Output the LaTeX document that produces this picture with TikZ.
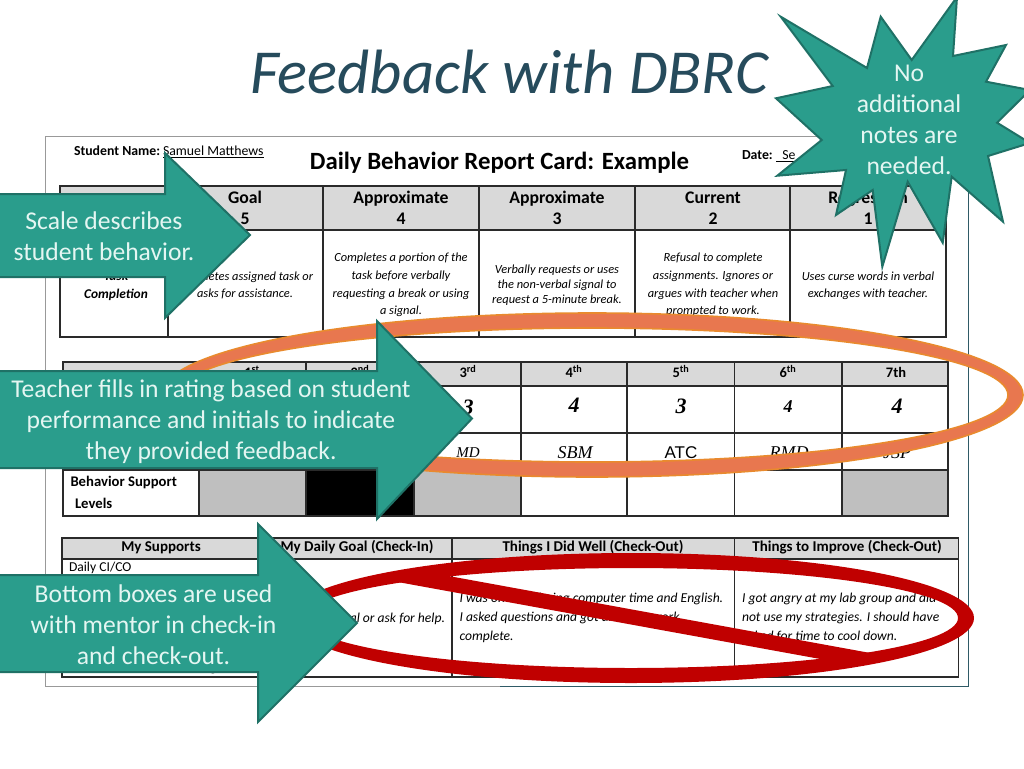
\documentclass[tikz,border=0pt]{standalone}
\usepackage{fontspec}
\setmainfont{Carlito}
\newfontfamily\hand{Liberation Serif}
\newfontfamily\arialish{Liberation Sans}
\usetikzlibrary{calc}
\definecolor{teal1}{HTML}{2A9D8C}
\definecolor{teal2}{HTML}{1F7166}
\definecolor{titlec}{HTML}{264B5C}
\definecolor{pale}{HTML}{E4F6F2}
\definecolor{hdr}{HTML}{D9D9D9}
\definecolor{lvl}{HTML}{BFBFBF}
\definecolor{rim}{HTML}{E98A2E}
\definecolor{ring}{HTML}{E8774F}
\definecolor{nored}{HTML}{C00000}
\definecolor{gl}{HTML}{2A2A2A}
\definecolor{frameg}{HTML}{999999}
\definecolor{framet}{HTML}{2F5A66}
\tikzset{
  x=1pt,y=-1pt,
  grid/.style={draw=gl,line width=1.25pt},
  hcell/.style={fill=hdr},
  tx/.style={anchor=mid,inner sep=0pt,outer sep=0pt,text=black},
  hd/.style={tx,font=\fontsize{17.7}{19}\selectfont\bfseries},
  hs/.style={tx,font=\fontsize{14.5}{16}\selectfont\bfseries},
  hb/.style={tx,font=\fontsize{15}{17}\selectfont\bfseries},
  it/.style={tx,font=\fontsize{12.4}{14}\selectfont\itshape},
  itb/.style={tx,font=\fontsize{13.6}{15}\selectfont\itshape,anchor=mid west},
  rate/.style={tx,font=\fontsize{22}{24}\hand\bfseries\itshape},
  init/.style={tx,font=\fontsize{18}{20}\hand\itshape},
  callout/.style={fill=teal1,draw=teal2,line width=2pt,line join=miter},
  calltext/.style={anchor=center,inner sep=0pt,align=center,text=pale,font=\fontsize{25.6}{31}\selectfont},
}
\begin{document}
\begin{tikzpicture}
\useasboundingbox (0,0) rectangle (1024,768);
\fill[white] (0,0) rectangle (1024,768);
% title
\node[anchor=mid,inner sep=0pt,text=titlec,font=\fontsize{62.6}{66}\selectfont\itshape] (title) at (509,91) {Feedback with DBRC};
% page frame
\draw[draw=frameg,line width=1pt] (500,686) -- (45.5,686) -- (45.5,136) -- (968,136);
\draw[draw=framet,line width=1pt] (968,136) -- (968,686) -- (500,686);
% head of card
\node[tx,anchor=mid west,font=\fontsize{13.8}{15}\selectfont\bfseries] (sn) at (74,153) {Student Name:};
\node[tx,anchor=mid west,font=\fontsize{13.8}{15}\selectfont] (sm) at (163,153) {\underline{Samuel Matthews}};
\node[tx,font=\fontsize{24.8}{26}\selectfont\bfseries] (card) at (499.5,167) {Daily Behavior Report Card: Example};
\node[tx,anchor=mid west,font=\fontsize{13.8}{15}\selectfont\bfseries] (dt) at (742,157) {Date:};
\node[tx,anchor=mid west,font=\fontsize{13.8}{15}\selectfont] (dv) at (776,157) {\underline{\ \ Se}};
% table 1
\fill[hcell] (60,186) rectangle (946,230);
\draw[grid] (60,186) rectangle (946,337);
\draw[grid] (60,230) -- (946,230);
\foreach \c in {168,323,479,635,790} \draw[grid] (\c,186) -- (\c,337);
\foreach \n/\c/\a/\b in {g/245/Goal/5,ap/401/Approximate/4,aq/557/Approximate/3,cu/713/Current/2,re/868/Regression/1}{
  \node[hd] (h\n) at (\c,201) {\a};
  \node[hd] (n\n) at (\c,222) {\b};
}
\node[tx,font=\fontsize{13.4}{15}\selectfont\bfseries\itshape] (task) at (116,278) {Task};
\node[tx,font=\fontsize{13.4}{15}\selectfont\bfseries\itshape] (comp) at (116,296) {Completion};
\foreach \n/\c/\y/\s in {
 a/245/278/Completes assigned task or, b/245/295/asks for assistance.,
 c/401/259/Completes a portion of the, d/401/277/task before verbally, e/401/295/requesting a break or using, f/401/312/a signal.,
 h/557/271/Verbally requests or uses, i/557/286/the non-verbal signal to, j/557/301/request a 5-minute break.,
 k/713/259/Refusal to complete, l/713/277/assignments. Ignores or, m/713/295/argues with teacher when, o/713/312/prompted to work.,
 p/868/278/Uses curse words in verbal, q/868/295/exchanges with teacher.}
 {\node[it] (t\n) at (\c,\y) {\s};}
% table 2
\fill[hdr] (63,362) rectangle (948,386);
\fill[lvl] (199,470) rectangle (306,516);
\fill[black] (306,470) rectangle (414,516);
\fill[lvl] (414,470) rectangle (521,516);
\fill[lvl] (842,470) rectangle (948,516);
\draw[grid] (63,362) rectangle (948,516);
\foreach \r in {386,433,470} \draw[grid] (63,\r) -- (948,\r);
\foreach \c in {199,306,414,521,627,734.5,842} \draw[grid] (\c,362) -- (\c,516);
\foreach \n/\c/\s in {1/252/1\textsuperscript{st},2/360/2\textsuperscript{nd},3/468/3\textsuperscript{rd},4/574/4\textsuperscript{th},5/681/5\textsuperscript{th},6/788/6\textsuperscript{th},7/896/7th}
 {\node[hs] (p\n) at (\c,375) {\s};}
\node[rate] (r3) at (468,412) {3};
\node[rate] (r4) at (574,410) {4};
\node[rate] (r5) at (681,411) {3};
\node[rate,font=\fontsize{18}{20}\hand\bfseries\itshape] (r6) at (788,410) {4};
\node[rate] (r7) at (897,411) {4};
\node[tx,font=\fontsize{15}{17}\hand\itshape] (i3) at (468,455) {MD};
\node[init] (i4) at (575,456) {SBM};
\node[tx,font=\fontsize{17}{19}\arialish] (i5) at (681,456) {ATC};
\node[init] (i6) at (789,456) {RMD};
\node[init] (i7) at (897,456) {JSP};
\node[tx,anchor=mid west,font=\fontsize{14.7}{16}\selectfont\bfseries] (bs) at (70.5,484) {Behavior Support};
\node[tx,anchor=mid west,font=\fontsize{14.7}{16}\selectfont\bfseries] (lv) at (75,506) {Levels};
% table 3
\fill[hdr] (62,538) rectangle (958.5,559);
\draw[grid] (62,538) rectangle (958.5,677);
\draw[grid] (62,559) -- (958.5,559);
\foreach \c in {262,452,734.5} \draw[grid] (\c,538) -- (\c,677);
\node[hb] (s1) at (161,549) {My Supports};
\node[hb] (s2) at (357,549) {My Daily Goal (Check-In)};
\node[hb] (s3) at (593,549) {Things I Did Well (Check-Out)};
\node[hb] (s4) at (847,549) {Things to Improve (Check-Out)};
\node[tx,anchor=mid west,font=\fontsize{13.6}{15}\selectfont] (ci) at (69,569) {Daily CI/CO};
\node[tx,font=\fontsize{13.6}{15}\selectfont] (gg) at (213,669) {g};
\node[itb,anchor=mid east] (dg) at (445,620) {Use my signal or ask for help.};
\foreach \n/\c/\y/\s in {
 a/459.5/600/I was on task during computer time and English.,
 b/459.5/619/I asked questions and got all of my work,
 c/459.5/638/complete.,
 d/742/600/I got angry at my lab group and did,
 e/742/619/not use my strategies.  I should have,
 f/742/638/asked for time to cool down.}
 {\node[itb] (w\n) at (\c,\y) {\s};}
% orange ring
\fill[ring,even odd rule,draw=rim,line width=1.6pt] (592,395) ellipse [x radius=431,y radius=82] (592,395) ellipse [x radius=416,y radius=67];
% red prohibition sign
\fill[nored,even odd rule] (631,618) ellipse [x radius=343,y radius=65] (631,618) ellipse [x radius=327,y radius=50];
\fill[nored] (424,571.5) -- (895,657.5) -- (845,663.5) -- (373,577.5) -- cycle;
% callouts
\draw[callout] (-5,194) -- (165,194) -- (165,153) -- (250,235) -- (165,318) -- (165,277) -- (-5,277) -- cycle;
\node[calltext] (c1) at (104,236) {Scale describes\\student behavior.};
\draw[callout] (-5,371) -- (377,371) -- (377,321) -- (472,418.5) -- (377,519) -- (377,468) -- (-5,468) -- cycle;
\node[calltext] (c2) at (211,421.5) {Teacher fills in rating based on student\\performance and initials to indicate\\they provided feedback.};
\draw[callout] (-5,575) -- (258,575) -- (258,524) -- (357,623) -- (258,722) -- (258,672) -- (-5,672) -- cycle;
\node[calltext] (c3) at (153.5,624.5) {Bottom boxes are used\\with mentor in check-in\\and check-out.};
% star
\draw[callout] (780.7,16.7) -- (867,68) -- (880.7,16.7) -- (911.7,60) -- (957,-3) -- (953,56) -- (1006,45) -- (986,81.7) -- (1030,90) -- (997,122.7) -- (1030,143) -- (988,156) -- (1003,221.7) -- (951.7,176.7) -- (942.7,242.7) -- (907.7,181.7) -- (882.3,266.7) -- (872.7,190) -- (836,215) -- (846,170) -- (777.3,175.7) -- (821.7,140) -- (776,98.3) -- (832.7,86) -- cycle;
\node[calltext] (c4) at (909,120) {No\\additional\\notes are\\needed.};
\end{tikzpicture}
\end{document}
